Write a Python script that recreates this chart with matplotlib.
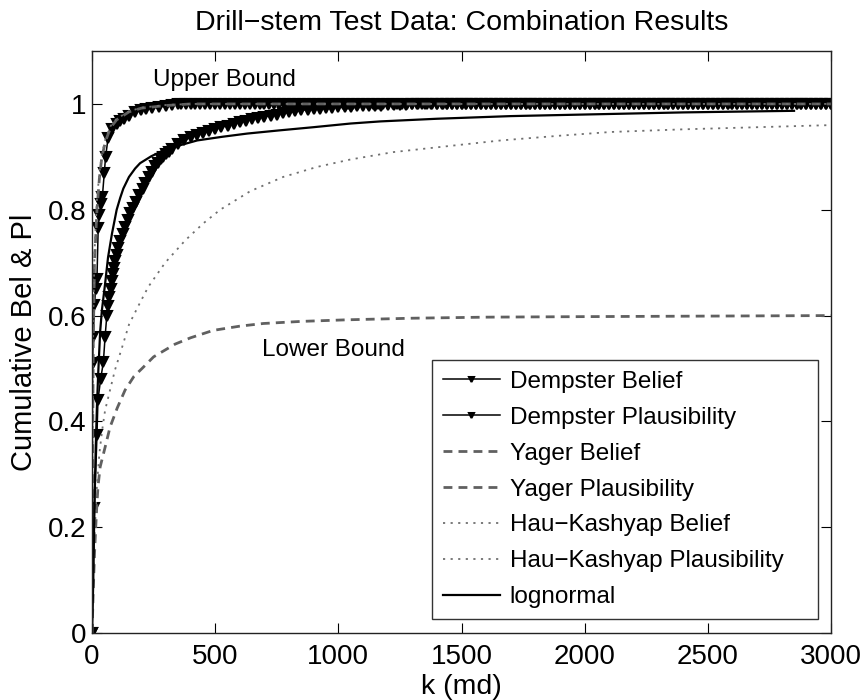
import matplotlib
matplotlib.use("Agg")
import matplotlib.pyplot as plt

plt.rcParams['font.family'] = ['Liberation Sans', 'DejaVu Sans']

# Dempster Belief
dem_bel_k = [0, 10, 20, 24, 35, 46, 53, 60, 65, 70, 75, 80, 85, 90, 95, 100,
             107, 115, 125, 135, 145, 155, 167, 180, 192, 205, 217, 230, 242,
             255, 267, 280, 290, 300, 312,
             325, 350, 375, 400, 425, 450, 475, 500, 525, 550,
             575, 600, 625, 650, 675, 700, 725, 750, 775, 800,
             825, 850, 875, 900, 925, 950, 975, 1000, 1025, 1050,
             1075, 1100, 1125, 1150, 1175, 1200, 1225, 1250, 1275, 1300,
             1325, 1350, 1375, 1400, 1425]
dem_bel = [0.0, 0.236, 0.374, 0.44, 0.48, 0.512, 0.56, 0.600, 0.618, 0.635,
           0.650, 0.665, 0.678, 0.690, 0.703, 0.715, 0.727, 0.740, 0.754, 0.767,
           0.780, 0.793, 0.804, 0.815, 0.828, 0.840, 0.851, 0.862, 0.872, 0.882,
           0.889, 0.895, 0.900, 0.905, 0.910,
           0.915, 0.924, 0.931, 0.937, 0.942, 0.946, 0.949, 0.952, 0.956, 0.959,
           0.962, 0.965, 0.968, 0.971, 0.974, 0.976, 0.978, 0.980, 0.982, 0.984,
           0.986, 0.988, 0.989, 0.990, 0.991, 0.992, 0.993, 0.994, 0.995, 0.995,
           0.996, 0.996, 0.997, 0.997, 0.997, 0.998, 0.998, 0.998, 0.998, 0.999,
           0.999, 0.999, 0.999, 0.999, 0.999]

# Dempster Plausibility
dem_pl_k = [0, 2, 5, 10, 15, 20, 25, 30, 35, 42, 50, 55, 65, 80, 100, 115, 130,
            150, 175, 200, 220, 245, 270, 300, 325, 350]
dem_pl = [0.0, 0.51, 0.56, 0.62, 0.65, 0.67, 0.765, 0.79, 0.81, 0.825, 0.87,
          0.90, 0.935, 0.952, 0.962, 0.967, 0.972, 0.978, 0.984, 0.988, 0.99,
          0.992, 0.994, 0.996, 0.998, 0.999]

# k samples where both Dempster curves sit on 1 (dense markers -> black band)
flat_k = [360, 380, 400, 420, 440, 460, 480, 500, 520, 540, 560, 580,
          600, 620, 640, 660, 680, 700, 720, 740, 760, 780,
          800, 820, 840, 860, 880, 900, 920, 940, 960, 980,
          1000, 1020, 1040, 1060, 1080, 1100, 1120, 1140, 1160, 1180,
          1200, 1220, 1240, 1260, 1280, 1300, 1320, 1340, 1360, 1380,
          1400, 1420, 1440, 1460, 1480, 1500, 1520, 1540, 1560, 1580,
          1600, 1620, 1640, 1660, 1680, 1700, 1720, 1740, 1760, 1780,
          1800, 1820, 1840, 1860, 1880, 1900, 1920, 1940, 1960, 1980,
          2000, 2020, 2040, 2060, 2080, 2100, 2120, 2140, 2160, 2180,
          2200, 2220, 2240, 2260, 2280, 2300, 2320, 2340, 2360, 2380,
          2400, 2420, 2440, 2460, 2480, 2500, 2520, 2540, 2560, 2580,
          2600, 2620, 2640, 2660, 2680, 2700, 2720, 2740, 2760, 2780,
          2800, 2820, 2840, 2860, 2880, 2900, 2920, 2940, 2960, 2980,
          3000]
flat_val = 1.0

yager_bel_k = [0, 5, 10, 15, 20, 24, 33, 53, 73, 102, 134, 170, 203, 250, 337,
               400, 492, 600, 695, 850, 1036, 1300, 1600, 2000, 2500, 3000]
yager_bel = [0.0, 0.08, 0.15, 0.20, 0.245, 0.276, 0.314, 0.351, 0.389, 0.425,
             0.459, 0.485, 0.50, 0.522, 0.546, 0.558, 0.572, 0.58, 0.585, 0.589,
             0.592, 0.595, 0.597, 0.598, 0.599, 0.60]

yager_pl_k = [0, 2, 5, 10, 20, 30, 40, 55, 75, 100, 150, 200, 300, 400, 3000]
yager_pl = [0.0, 0.30, 0.55, 0.70, 0.80, 0.86, 0.90, 0.93, 0.955, 0.97, 0.985,
            0.992, 0.997, 1.0, 1.0]

hk_bel_k = [0, 5, 10, 20, 30, 41, 53, 73, 93, 122, 150, 190, 228, 297, 378,
            451, 520, 642, 776, 914, 1049, 1224, 1440, 1659, 1900, 2106, 2400,
            2700, 3000]
hk_bel = [0.0, 0.10, 0.18, 0.28, 0.34, 0.383, 0.421, 0.459, 0.497, 0.54, 0.583,
          0.62, 0.654, 0.70, 0.742, 0.774, 0.80, 0.835, 0.862, 0.881, 0.895,
          0.909, 0.92, 0.931, 0.94, 0.947, 0.952, 0.956, 0.96]

hk_pl_k = [0, 2, 5, 10, 20, 30, 40, 55, 75, 100, 150, 200, 300, 400, 3000]
hk_pl = [0.0, 0.35, 0.60, 0.72, 0.82, 0.87, 0.905, 0.935, 0.958, 0.972, 0.986,
         0.993, 0.998, 1.0, 1.0]

logn_k = [0, 5, 10, 15, 20, 25, 33, 40, 53, 65, 81, 100, 114, 127, 150, 175,
          195, 240, 289, 350, 427, 530, 630, 760, 898, 1050, 1171, 1400, 1700,
          2000, 2400, 2850]
logn = [0.0, 0.10, 0.25, 0.35, 0.43, 0.49, 0.57, 0.61, 0.66, 0.71, 0.755, 0.80,
        0.822, 0.840, 0.862, 0.878, 0.888, 0.901, 0.912, 0.921, 0.931, 0.938,
        0.944, 0.950, 0.956, 0.963, 0.967, 0.972, 0.977, 0.980, 0.984, 0.987]

# append the flat part (value 1) to the two Dempster curves
bel_flat = [k for k in flat_k if k > dem_bel_k[-1]]
pl_flat = [k for k in flat_k if k > dem_pl_k[-1]]
dem_bel_x = dem_bel_k + bel_flat
dem_bel_y = dem_bel + [flat_val for _ in bel_flat]
dem_pl_x = dem_pl_k + pl_flat
dem_pl_y = dem_pl + [flat_val for _ in pl_flat]

fig = plt.figure(figsize=(8.65, 7), dpi=100)
ax = fig.add_axes([0.1064, 0.0957, 0.8543, 0.8314])

ax.plot(dem_bel_x, dem_bel_y, color='black', lw=1.1, marker='v', ms=6.5,
        mew=1.5, label='Dempster Belief')
ax.plot(dem_pl_x, dem_pl_y, color='black', lw=1.1, marker='v', ms=6.5,
        mew=1.5, label='Dempster Plausibility')
ax.plot(yager_bel_k, yager_bel, color='#606060', lw=2.0, dashes=(3.2, 2.2),
        label='Yager Belief')
ax.plot(yager_pl_k, yager_pl, color='#606060', lw=2.0, dashes=(3.2, 2.2),
        label='Yager Plausibility')
ax.plot(hk_bel_k, hk_bel, color='#707070', lw=1.3, dashes=(1.2, 3),
        label='Hau\u2212Kashyap Belief')
ax.plot(hk_pl_k, hk_pl, color='#707070', lw=1.3, dashes=(1.2, 3),
        label='Hau\u2212Kashyap Plausibility')
ax.plot(logn_k, logn, color='black', lw=1.6, label='lognormal')

ax.set_xlim(0, 3000)
ax.set_ylim(0, 1.1)
ax.set_xticks([0, 500, 1000, 1500, 2000, 2500, 3000])
ax.set_yticks([0, 0.2, 0.4, 0.6, 0.8, 1])
ax.set_yticklabels(['0', '0.2', '0.4', '0.6', '0.8', '1'])
ax.tick_params(direction='in', top=True, right=True, labelsize=20, length=7,
               width=0.8)
ax.tick_params(axis='x', pad=8)
ax.tick_params(axis='y', pad=4)
for s in ax.spines.values():
    s.set_linewidth(1.0)
    s.set_color('#222222')

ax.set_title('Drill\u2212stem Test Data: Combination Results', fontsize=20.5, pad=15)
ax.set_xlabel('k (md)', fontsize=20.5, labelpad=3)
ax.set_ylabel('Cumulative Bel & Pl', fontsize=21, labelpad=7)

ax.text(248, 1.045, 'Upper Bound', fontsize=17.5, va='center', ha='left')
ax.text(691, 0.535, 'Lower Bound', fontsize=17.5, va='center', ha='left')

leg = ax.legend(loc='lower left', bbox_to_anchor=(0.46, 0.024, 0.522, 0.45),
                mode='expand', fontsize=17.5, frameon=True, fancybox=False,
                edgecolor='black', handlelength=2.35, handletextpad=0.4,
                labelspacing=0.57, borderpad=0.45, borderaxespad=0,
                markerscale=0.55)
leg.get_frame().set_linewidth(1.0)

fig.savefig('out.png', dpi=100)
